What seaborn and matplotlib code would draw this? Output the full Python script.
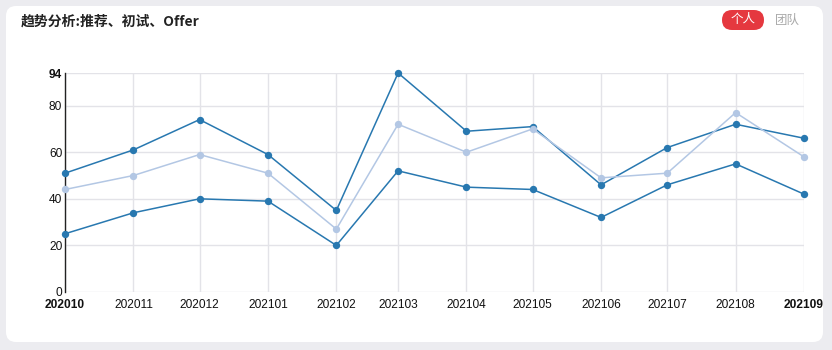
import matplotlib
matplotlib.use("Agg")
import matplotlib.pyplot as plt
from matplotlib.patches import FancyBboxPatch
import seaborn as sns
import pandas as pd

months = ["202010", "202011", "202012", "202101", "202102", "202103",
          "202104", "202105", "202106", "202107", "202108", "202109"]
recommend = [51, 61, 74, 59, 35, 94, 69, 71, 46, 62, 72, 66]
interview = [44, 50, 59, 51, 27, 72, 60, 70, 49, 51, 77, 58]
offer = [25, 34, 40, 39, 20, 52, 45, 44, 32, 46, 55, 42]
series_names = ["推荐", "初试", "Offer"]
series_colors = ["#2878b0", "#b3c7e4", "#2878b0"]
y_ticks = [0, 20, 40, 60, 80, 94]

dates = pd.to_datetime(months, format="%Y%m")
frames = []
for name, vals in zip(series_names, [recommend, interview, offer]):
    frames.append(pd.DataFrame({"date": dates, "value": vals, "series": name}))
df = pd.concat(frames, ignore_index=True)

sns.set_theme(style="white")
plt.rcParams["font.family"] = ["Liberation Sans", "Noto Sans CJK SC", "DejaVu Sans"]

W, H = 832, 350
fig = plt.figure(figsize=(W / 100, H / 100), dpi=100)
fig.patch.set_facecolor("#ececf0")


def px_box(x0, y0_top, w, h, radius, color):
    """Rounded box in pixel units measured from the top-left corner."""
    p = FancyBboxPatch((x0, H - y0_top - h), w, h,
                       boxstyle=f"round,pad=0,rounding_size={radius}",
                       transform=None, facecolor=color, edgecolor="none",
                       zorder=-5)
    fig.patches.append(p)
    return p


# white rounded card
px_box(6, 6, 817, 336, 10, "white")

ax = fig.add_axes([65 / W, 58 / H, (804 - 65) / W, (292 - 73) / H])
ax.set_facecolor("none")

sns.lineplot(data=df, x="date", y="value", hue="series", hue_order=series_names,
             palette=series_colors, marker="o", markersize=5.3,
             markeredgewidth=0, linewidth=1.1, legend=False, ax=ax,
             estimator=None, sort=False)
for ln in ax.lines:
    ln.set_clip_on(False)
    ln.set_zorder(3)

ax.set_xlim(dates[0], dates[-1])
ax.set_ylim(0, 94)
ax.set_xticks(dates)
ax.set_xticklabels(months)
ax.set_yticks(y_ticks)
ax.set_yticklabels([str(t) for t in y_ticks])
ax.set_xlabel("")
ax.set_ylabel("")

ax.grid(True, color="#e3e3e8", linewidth=1)
ax.set_axisbelow(True)
for s in ["top", "right", "bottom"]:
    ax.spines[s].set_visible(False)
ax.spines["left"].set_color("#222222")
ax.spines["left"].set_linewidth(1)
ax.tick_params(axis="both", length=0, labelsize=8.6, colors="#111111")
ax.tick_params(axis="x", pad=5)
ax.tick_params(axis="y", pad=2)

xl = ax.get_xticklabels()
xl[0].set_fontweight("bold")
xl[-1].set_fontweight("bold")
yl = ax.get_yticklabels()
yl[-1].set_fontweight("bold")

fig.text(21 / W, 1 - 22 / H, "趋势分析:推荐、初试、Offer", fontsize=10,
         fontweight="bold", va="center", ha="left", color="#222222",
         family=["Noto Sans CJK SC", "DejaVu Sans"])

px_box(722, 10, 42, 20, 10, "#e5383f")
fig.text(743 / W, 1 - 20 / H, "个人", fontsize=9, color="white",
         ha="center", va="center", family=["Noto Sans CJK SC", "DejaVu Sans"])
fig.text(787 / W, 1 - 20 / H, "团队", fontsize=9, color="#a8a8a8",
         ha="center", va="center", family=["Noto Sans CJK SC", "DejaVu Sans"])

fig.savefig("out.png", dpi=100, facecolor=fig.get_facecolor())
